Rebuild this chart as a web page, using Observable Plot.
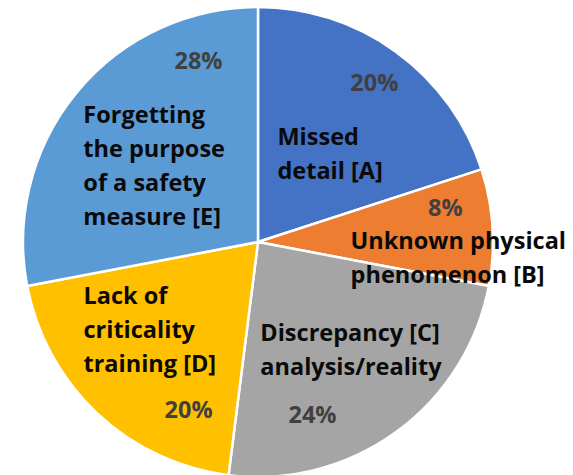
<!DOCTYPE html>
<html>
<head>
<meta charset="utf-8">
<script src="https://cdn.jsdelivr.net/npm/d3@7"></script>
<script src="https://cdn.jsdelivr.net/npm/@observablehq/plot@0.6"></script>
<style>
  html, body { margin: 0; padding: 0; background: #ffffff; }
  #chart { width: 573px; height: 475px; overflow: hidden; }
</style>
</head>
<body>
<div id="chart"></div>
<script>
// ---- data ----
const categories = ["A", "B", "C", "D", "E"];
const labels = [
  "Missed\ndetail [A]",
  "Unknown physical\nphenomenon [B]",
  "Discrepancy [C]\nanalysis/reality",
  "Lack of\ncriticality\ntraining [D]",
  "Forgetting\nthe purpose\nof a safety\nmeasure [E]"
];
const values = [20, 8, 24, 20, 28];
const colors = ["#4472C4", "#ED7D31", "#A5A5A5", "#FFC000", "#5B9BD5"];

// ---- label layout (offsets from slice centroid, in radius units) ----
const labelRadius = 0.6;
const catOffsetX = [-0.272, -0.207, -0.345, -0.334, -0.283];
const catOffsetY = [-0.096, -0.093, 0.041, 0.078, -0.045];
const pctOffsetX = [0.140, 0.196, -0.123, 0.113, 0.207];
const pctOffsetY = [0.190, 0.106, -0.251, -0.277, 0.386];

const table = categories.map((c, i) => ({category: c, label: labels[i], value: values[i]}));
const total = d3.sum(values);
const pie = d3.pie().sort(null).value(d => d.value)(table);
pie.forEach((a, i) => {
  const mid = (a.startAngle + a.endAngle) / 2;
  a.data.cx = labelRadius * Math.sin(mid);
  a.data.cy = labelRadius * Math.cos(mid);
  a.data.catX = a.data.cx + catOffsetX[i];
  a.data.catY = a.data.cy + catOffsetY[i];
  a.data.pctX = a.data.cx + pctOffsetX[i];
  a.data.pctY = a.data.cy + pctOffsetY[i];
  a.data.pct = Math.round(a.data.value / total * 100) + "%";
});

const color = Plot.scale({color: {type: "ordinal", domain: categories, range: colors}});

function slices(index, scales) {
  const cx = scales.x(0), cy = scales.y(0);
  const r = Math.abs(scales.x(1) - scales.x(0));
  const arc = d3.arc().innerRadius(0).outerRadius(r);
  const g = d3.create("svg:g").attr("transform", `translate(${cx},${cy})`);
  g.selectAll("path").data(pie).join("path")
    .attr("d", arc)
    .attr("fill", d => color.apply(d.data.category))
    .attr("stroke", "#ffffff")
    .attr("stroke-width", 2.5)
    .attr("stroke-linejoin", "round");
  return g.node();
}

const chart = Plot.plot({
  width: 573,
  height: 475,
  x: {domain: [-1, 1], range: [23, 493], axis: null},
  y: {domain: [-1, 1], range: [477, 7], axis: null},
  style: {fontFamily: "'Open Sans', sans-serif", background: "#ffffff", overflow: "hidden"},
  marks: [
    slices,
    Plot.text(table, {
      x: "catX", y: "catY", text: "label",
      textAnchor: "start", lineAnchor: "middle", lineHeight: 1.45,
      fontSize: 23.5, fontWeight: "bold", fill: "#0a0a0a"
    }),
    Plot.text(table, {
      x: "pctX", y: "pctY", text: "pct",
      textAnchor: "middle", lineAnchor: "middle",
      fontSize: 23.5, fontWeight: "bold", fill: "#404040"
    })
  ]
});
document.getElementById("chart").appendChild(chart);
</script>
</body>
</html>
